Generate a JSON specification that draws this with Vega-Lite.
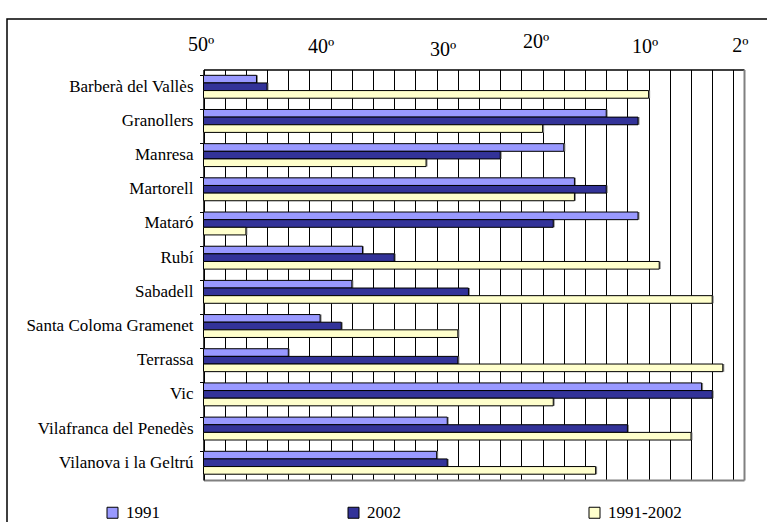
{
  "$schema": "https://vega.github.io/schema/vega-lite/v6.json",
  "width": 762,
  "height": 505,
  "autosize": {"type": "none"},
  "padding": {"left": 7, "top": 19, "right": 0, "bottom": 0},
  "background": "white",
  "config": {
    "view": {"stroke": "black", "strokeWidth": 1.5},
    "font": "Liberation Serif",
    "axis": {"labelFont": "Liberation Serif", "labelColor": "black"},
    "legend": {"labelFont": "Liberation Serif"}
  },
  "data": {
    "values": [
      {"municipi": "Barberà del Vallès", "serie": "1991", "posicio": 47},
      {"municipi": "Barberà del Vallès", "serie": "2002", "posicio": 46},
      {"municipi": "Barberà del Vallès", "serie": "1991-2002", "posicio": 10},
      {"municipi": "Granollers", "serie": "1991", "posicio": 14},
      {"municipi": "Granollers", "serie": "2002", "posicio": 11},
      {"municipi": "Granollers", "serie": "1991-2002", "posicio": 20},
      {"municipi": "Manresa", "serie": "1991", "posicio": 18},
      {"municipi": "Manresa", "serie": "2002", "posicio": 24},
      {"municipi": "Manresa", "serie": "1991-2002", "posicio": 31},
      {"municipi": "Martorell", "serie": "1991", "posicio": 17},
      {"municipi": "Martorell", "serie": "2002", "posicio": 14},
      {"municipi": "Martorell", "serie": "1991-2002", "posicio": 17},
      {"municipi": "Mataró", "serie": "1991", "posicio": 11},
      {"municipi": "Mataró", "serie": "2002", "posicio": 19},
      {"municipi": "Mataró", "serie": "1991-2002", "posicio": 48},
      {"municipi": "Rubí", "serie": "1991", "posicio": 37},
      {"municipi": "Rubí", "serie": "2002", "posicio": 34},
      {"municipi": "Rubí", "serie": "1991-2002", "posicio": 9},
      {"municipi": "Sabadell", "serie": "1991", "posicio": 38},
      {"municipi": "Sabadell", "serie": "2002", "posicio": 27},
      {"municipi": "Sabadell", "serie": "1991-2002", "posicio": 4},
      {"municipi": "Santa Coloma Gramenet", "serie": "1991", "posicio": 41},
      {"municipi": "Santa Coloma Gramenet", "serie": "2002", "posicio": 39},
      {"municipi": "Santa Coloma Gramenet", "serie": "1991-2002", "posicio": 28},
      {"municipi": "Terrassa", "serie": "1991", "posicio": 44},
      {"municipi": "Terrassa", "serie": "2002", "posicio": 28},
      {"municipi": "Terrassa", "serie": "1991-2002", "posicio": 3},
      {"municipi": "Vic", "serie": "1991", "posicio": 5},
      {"municipi": "Vic", "serie": "2002", "posicio": 4},
      {"municipi": "Vic", "serie": "1991-2002", "posicio": 19},
      {"municipi": "Vilafranca del Penedès", "serie": "1991", "posicio": 29},
      {"municipi": "Vilafranca del Penedès", "serie": "2002", "posicio": 12},
      {"municipi": "Vilafranca del Penedès", "serie": "1991-2002", "posicio": 6},
      {"municipi": "Vilanova i la Geltrú", "serie": "1991", "posicio": 30},
      {"municipi": "Vilanova i la Geltrú", "serie": "2002", "posicio": 29},
      {"municipi": "Vilanova i la Geltrú", "serie": "1991-2002", "posicio": 15}
    ]
  },
  "layer": [
    {
      "mark": {"type": "bar", "fill": "#8a8a8a", "xOffset": 1.5, "yOffset": 1.5},
      "encoding": {
        "y": {
          "field": "municipi", "type": "nominal", "sort": null,
          "scale": {"range": [50.5, 461], "paddingInner": 0.33, "paddingOuter": 0.17},
          "axis": {"orient": "right", "offset": -25, "title": null, "labels": false, "ticks": false, "grid": false, "domainColor": "#808080", "domainWidth": 2}
        },
        "yOffset": {"field": "serie", "type": "nominal", "sort": ["1991", "2002", "1991-2002"], "scale": {"paddingInner": 0}},
        "x": {
          "field": "posicio", "type": "quantitative",
          "scale": {"domain": [52, 1], "range": [196.5, 737], "nice": false, "zero": false},
          "axis": {"orient": "bottom", "offset": -44, "title": null, "labels": false, "ticks": false, "grid": false, "domainColor": "#808080", "domainWidth": 2}
        },
        "x2": {"datum": 52}
      }
    },
    {
      "mark": {"type": "bar", "stroke": "black", "strokeWidth": 1},
      "encoding": {
        "y": {
          "field": "municipi", "type": "nominal", "sort": null,
          "scale": {"range": [50.5, 461], "paddingInner": 0.33, "paddingOuter": 0.17},
          "axis": {"orient": "left", "offset": -196.5, "title": null, "domainColor": "black", "domainWidth": 1.5, "tickColor": "black", "tickSize": 4, "tickWidth": 1, "bandPosition": 0, "labelFont": "Liberation Serif", "labelFontSize": 17, "labelPadding": 6.5, "labelLimit": 300, "grid": false}
        },
        "yOffset": {"field": "serie", "type": "nominal", "sort": ["1991", "2002", "1991-2002"], "scale": {"paddingInner": 0}},
        "x": {
          "field": "posicio", "type": "quantitative",
          "scale": {"domain": [52, 1], "range": [196.5, 737], "nice": false, "zero": false},
          "axis": {
            "orient": "top", "offset": -50.5, "title": null,
            "domainColor": "black", "domainWidth": 1.5,
            "ticks": false, "tickSize": 0,
            "grid": true, "gridColor": "black", "gridWidth": 1, "gridOpacity": 1,
            "values": [52, 50, 48, 46, 44, 42, 40, 38, 36, 34, 32, 30, 28, 26, 24, 22, 20, 18, 16, 14, 12, 10, 8, 6, 4, 2],
            "labelExpr": "(datum.value % 10 === 0 || datum.value === 2) ? datum.value + 'º' : ''",
            "labelFont": "Liberation Serif",
            "labelFontSize": 20, "labelBaseline": "alphabetic", "labelAngle": 0,
            "labelFlush": false, "labelOverlap": false, "labelBound": false,
            "labelOffset": {"condition": [
              {"test": "datum.value === 50", "value": -24},
              {"test": "datum.value === 40", "value": -10},
              {"test": "datum.value === 30", "value": 6},
              {"test": "datum.value === 20", "value": -7},
              {"test": "datum.value === 10", "value": -4},
              {"test": "datum.value === 2", "value": 6.5}
            ], "value": 0},
            "labelPadding": {"condition": [
              {"test": "datum.value === 50", "value": 19.5},
              {"test": "datum.value === 40", "value": 17},
              {"test": "datum.value === 30", "value": 14.5},
              {"test": "datum.value === 20", "value": 22},
              {"test": "datum.value === 10", "value": 17}
            ], "value": 18}
          }
        },
        "x2": {"datum": 52},
        "color": {
          "field": "serie", "type": "nominal",
          "scale": {"domain": ["1991", "2002", "1991-2002"], "range": ["#9999FF", "#333399", "#FFFFCC"]},
          "legend": {
            "orient": "none", "legendX": 97, "legendY": 485, "direction": "horizontal", "title": null,
            "symbolType": "square", "symbolSize": 121, "symbolStrokeColor": "black", "symbolStrokeWidth": 1,
            "labelFont": "Liberation Serif", "labelFontSize": 17, "labelColor": "black", "labelOffset": 5,
            "columnPadding": 185, "padding": 0
          }
        }
      }
    }
  ],
  "resolve": {"axis": {"x": "independent", "y": "independent"}}
}
